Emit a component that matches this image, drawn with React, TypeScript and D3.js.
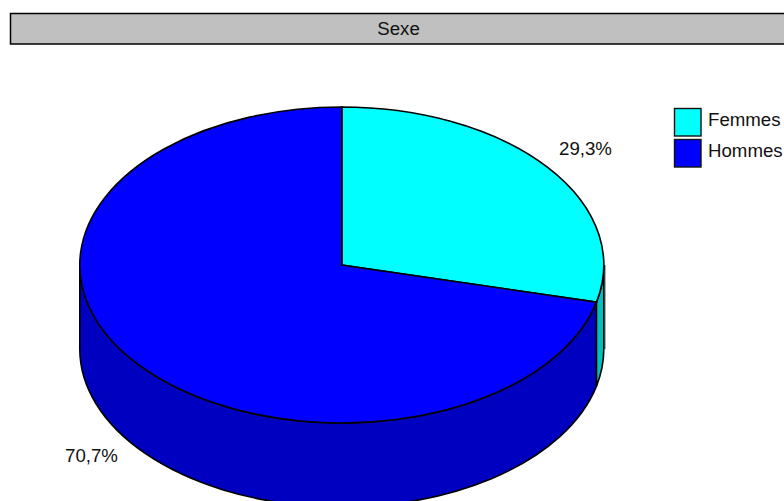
import React from 'react';
import * as d3 from 'd3';

const title = 'Sexe';
const categories = ['Femmes', 'Hommes'];
const shares = [29.3, 70.7];
const shareLabels = ['29,3%', '70,7%'];
const topColors = ['#00FFFF', '#0000FF'];
const wallColors = ['#00C0C0', '#0000C0'];

const width = 784;
const height = 501;
const font = '"Liberation Sans", Arial, sans-serif';
const fontSize = 18.67;

// pie geometry
const cx = 341.8;
const cy = 265;
const rx = 262;
const ry = 158;
const depth = 84;
// the tilted pie shows the slice boundary slightly ahead of its true angle
const tiltSkew = 0.982;

const labelPos = [
   { x: 559, y: 155 },
   { x: 65, y: 462 },
];

const rawAngles = d3
   .pie<number>()
   .sort(null)
   .value((d) => d)(shares);

const boundary = rawAngles[0].endAngle * tiltSkew;
const pieAngles = [
   { startAngle: 0, endAngle: boundary },
   { startAngle: boundary, endAngle: 2 * Math.PI },
];

const unitArc = d3.arc<{ startAngle: number; endAngle: number }>().innerRadius(0).outerRadius(1);

const px = (a: number) => cx + rx * Math.sin(a);
const py = (a: number) => cy - ry * Math.cos(a);

// side wall between two angles on the front half of the ellipse
const wallPath = (a0: number, a1: number) =>
   `M${px(a0)},${py(a0)}` +
   `A${rx},${ry} 0 0 1 ${px(a1)},${py(a1)}` +
   `L${px(a1)},${py(a1) + depth}` +
   `A${rx},${ry} 0 0 0 ${px(a0)},${py(a0) + depth}Z`;

const App = () => {
   return (
      <svg
         width={width}
         height={height}
         viewBox={`0 0 ${width} ${height}`}
         style={{ position: 'absolute', left: 0, top: 0, background: '#fff' }}
      >
         <rect x={10.5} y={13.5} width={800} height={30.5} fill="#C0C0C0" stroke="#000" strokeWidth={1.5} />
         <text x={398.5} y={34.5} textAnchor="middle" fontFamily={font} fontSize={fontSize} fill="#111">
            {title}
         </text>

         {/* side walls */}
         <path d={wallPath(boundary, (3 * Math.PI) / 2)} fill={wallColors[1]} stroke="#000" strokeWidth={1.6} />
         <path d={wallPath(Math.PI / 2, boundary)} fill={wallColors[0]} stroke="#000" strokeWidth={1.6} />
         <line x1={cx + rx + 1} x2={cx + rx + 1} y1={cy} y2={cy + depth} stroke="#333" strokeWidth={1.2} />

         {/* top face */}
         <g transform={`translate(${cx},${cy}) scale(${rx},${ry})`}>
            {pieAngles.map((d, i) => (
               <path
                  key={categories[i]}
                  d={unitArc(d) ?? ''}
                  fill={topColors[i]}
                  stroke="#000"
                  strokeWidth={1.6}
                  vectorEffect="non-scaling-stroke"
               />
            ))}
         </g>

         {shareLabels.map((label, i) => (
            <text key={label} x={labelPos[i].x} y={labelPos[i].y} fontFamily={font} fontSize={fontSize} fill="#111">
               {label}
            </text>
         ))}

         {/* legend */}
         {categories.map((c, i) => (
            <g key={c} transform={`translate(674.5,${108.5 + i * 31})`}>
               <rect width={26.5} height={27.5} fill={topColors[i]} stroke="#111" strokeWidth={1.4} />
               <text x={33.5} y={17} fontFamily={font} fontSize={fontSize} fill="#111">
                  {c}
               </text>
            </g>
         ))}
      </svg>
   );
};

export default App;
